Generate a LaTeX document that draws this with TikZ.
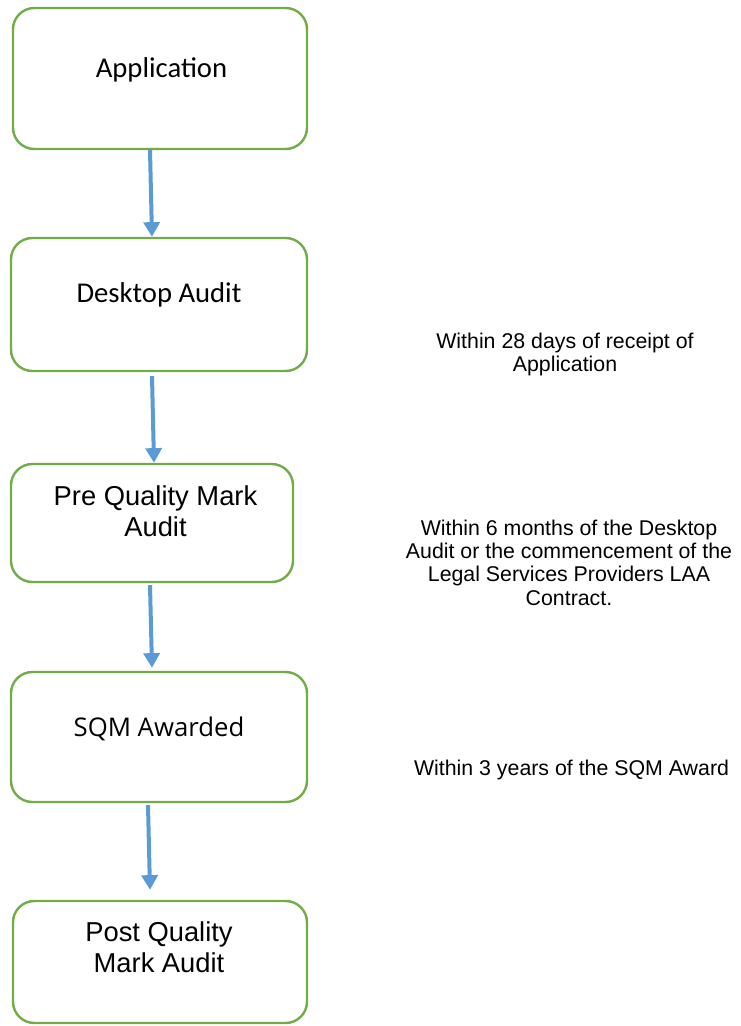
\documentclass[tikz,border=0pt]{standalone}
\usepackage{fontspec}
\setmainfont{Liberation Sans}
\newfontfamily\calibrifont{Carlito}
\newfontfamily\segoefont{Open Sans}
\usetikzlibrary{
    arrows.meta,
    calc,
    positioning
}
\definecolor{stagegreen}{RGB}{112,173,71}
\definecolor{flowblue}{RGB}{91,155,213}

\begin{document}
\begin{tikzpicture}[x=0.75pt, y=-0.75pt,
    stage/.style={draw=stagegreen, line width=1.8pt, rounded corners=16pt, inner sep=0pt},
    flow/.style={draw=flowblue, line width=3pt, -{Triangle[length=11pt, width=12pt]}},
    boxtext/.style={anchor=base, align=center, font=\fontsize{20.5}{23.25}\selectfont},
    note/.style={anchor=base, align=center, font=\fontsize{16}{17.5}\selectfont}]
    \useasboundingbox (0, 0) rectangle (741, 1026);
    \node[stage, minimum width=220.5pt, minimum height=105.75pt] (app) at (160, 78.5) {};
    \node[stage, minimum width=222pt, minimum height=99.75pt] (desk) at (159, 304.5) {};
    \node[stage, minimum width=211.5pt, minimum height=88.5pt] (pre) at (152, 523) {};
    \node[stage, minimum width=222pt, minimum height=97.5pt] (sqm) at (159, 737) {};
    \node[stage, minimum width=220.5pt, minimum height=91.5pt] (post) at (160, 962) {};
    \node[boxtext, font=\calibrifont\fontsize{21.5}{25}\selectfont] (appText) at (161.5, 77) {Application};
    \node[boxtext, font=\calibrifont\fontsize{21.5}{25}\selectfont] (deskText) at (159, 302.7) {Desktop Audit};
    \node[boxtext] (preText) at (155.5, 536.7) {Pre Quality Mark\\Audit};
    \node[boxtext, font=\segoefont\fontsize{19.3}{23}\selectfont] (sqmText) at (159, 736) {SQM Awarded};
    \node[boxtext] (postText) at (159, 972.7) {Post Quality\\Mark Audit};
    \node[note] (deskNote) at (565, 371.7) {Within 28 days of receipt of\\Application};
    \node[note] (preNote) at (569, 605) {Within 6 months of the Desktop\\Audit or the commencement of the\\Legal Services Providers LAA\\Contract.};
    \node[note] (sqmNote) at (571.5, 775) {Within 3 years of the SQM Award};
    \draw[flow] ($(app.south) + (-10, 0)$) -- ($(desk.north) + (-7, 0)$);
    \draw[flow] ($(desk.south) + (-7, 4)$) -- ($(pre.north) + (2, 0)$);
    \draw[flow] ($(pre.south) + (-2, 2)$) -- ($(sqm.north) + (-7, -3)$);
    \draw[flow] ($(sqm.south) + (-11, 2)$) -- ($(post.north) + (-10, -10)$);
\end{tikzpicture}
\end{document}
